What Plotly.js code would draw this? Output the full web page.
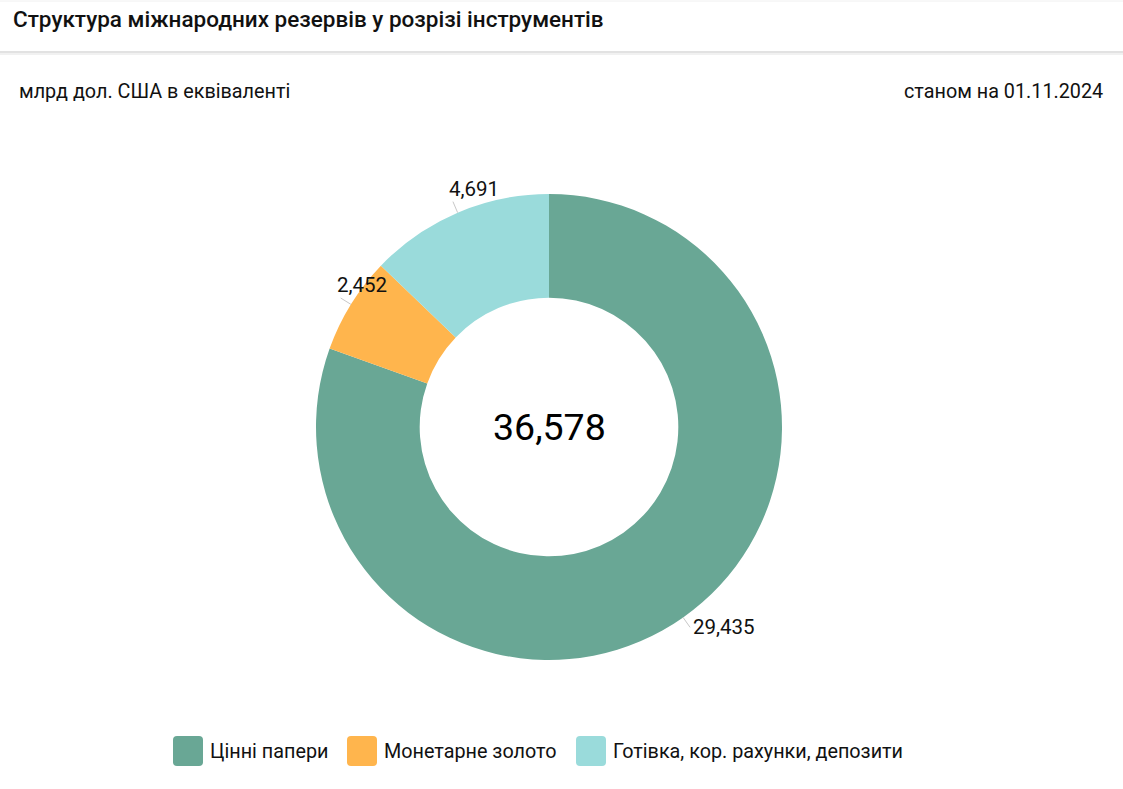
<!DOCTYPE html>
<html><head><meta charset="utf-8">
<script src="https://cdn.plot.ly/plotly-3.0.1.min.js"></script>
<style>html,body{margin:0;padding:0;background:#fff;}#c{width:1123px;height:789px;}</style>
</head><body><div id="c"></div>
<script>
var categories = ["Цінні папери", "Монетарне золото", "Готівка, кор. рахунки, депозити"];
var values = [29435, 2452, 4691];
var colors = ["#69A795", "#FFB54D", "#9ADBDB"];
var titleText = "Структура міжнародних резервів у розрізі інструментів";
var unitText = "млрд дол. США в еквіваленті";
var dateText = "станом на 01.11.2024";

var W = 1123, H = 789, M = {l: 0, r: 25, t: 194, b: 129};
var PW = W - M.l - M.r, PH = H - M.t - M.b;
function px(x) { return (x - M.l) / PW; }
function py(y) { return (H - M.b - y) / PH; }

var total = values.reduce(function (a, b) { return a + b; }, 0);
var font = "Roboto, 'Noto Sans', sans-serif";

var shapes = [
  {type: "line", xref: "paper", yref: "paper", x0: px(0), x1: px(W), y0: py(52), y1: py(52), line: {color: "#e2e2e2", width: 2}},
  {type: "line", xref: "paper", yref: "paper", x0: px(0), x1: px(W), y0: py(54), y1: py(54), line: {color: "#f1f1f1", width: 2}},
  {type: "line", xref: "paper", yref: "paper", x0: px(0), x1: px(W), y0: py(1), y1: py(1), line: {color: "#f0f0f0", width: 1}}
];
var annotations = [
  {xref: "paper", yref: "paper", x: px(17), y: py(91), xanchor: "left", yanchor: "middle", showarrow: false, text: unitText, font: {family: font, size: 19.8, color: "#111"}},
  {xref: "paper", yref: "paper", x: px(1105), y: py(91), xanchor: "right", yanchor: "middle", showarrow: false, text: dateText, font: {family: font, size: 19.8, color: "#111"}},
  {xref: "paper", yref: "paper", x: 0.5, y: 0.5, xanchor: "center", yanchor: "middle", showarrow: false, text: total.toLocaleString("en-US"), font: {family: font, size: 37.5, color: "#000"}}
];

// value labels with short radial leader lines, placed from the data angles
var cx = M.l + PW / 2, cy = M.t + PH / 2, R = Math.min(PW, PH) / 2, lead = 12;
var cum = 0;
values.forEach(function (v, i) {
  var mid = (cum + v / 2) / total * 2 * Math.PI;
  cum += v;
  var sx = Math.sin(mid), sy = -Math.cos(mid);
  var x0 = cx + R * sx, y0 = cy + R * sy, x1 = cx + (R + lead) * sx, y1 = cy + (R + lead) * sy;
  shapes.push({type: "line", xref: "paper", yref: "paper", x0: px(x0), y0: py(y0), x1: px(x1), y1: py(y1), line: {color: "#c8c8c8", width: 1}});
  var right = sx > 0;
  annotations.push({
    xref: "paper", yref: "paper",
    x: px(right ? x1 + 1 : x1 - 6), y: py(right ? y1 : y1 + 1),
    xanchor: "left", yanchor: right ? "middle" : "bottom",
    showarrow: false, text: v.toLocaleString("en-US"),
    font: {family: font, size: 20.5, color: "#111"}
  });
});

// custom legend
var legX = [173, 347, 576];
var sw = 30, legY = 751, rad = 4;
function roundRect(x, y, w, h, r) {
  function P(a, b) { return px(a) + "," + py(b); }
  return "M" + P(x + r, y) + " L" + P(x + w - r, y) + " Q" + P(x + w, y) + " " + P(x + w, y + r) +
    " L" + P(x + w, y + h - r) + " Q" + P(x + w, y + h) + " " + P(x + w - r, y + h) +
    " L" + P(x + r, y + h) + " Q" + P(x, y + h) + " " + P(x, y + h - r) +
    " L" + P(x, y + r) + " Q" + P(x, y) + " " + P(x + r, y) + " Z";
}
categories.forEach(function (c, i) {
  shapes.push({type: "path", xref: "paper", yref: "paper", path: roundRect(legX[i], legY - sw / 2, sw, sw, rad), fillcolor: colors[i], line: {width: 0}});
  annotations.push({xref: "paper", yref: "paper", x: px(legX[i] + sw + 5), y: py(legY), xanchor: "left", yanchor: "middle", showarrow: false, text: c, font: {family: font, size: 19.8, color: "#111"}});
});

var data = [{
  type: "pie",
  labels: categories,
  values: values,
  hole: 0.555,
  sort: false,
  direction: "clockwise",
  rotation: 0,
  marker: {colors: colors, line: {color: "#fff", width: 0}},
  textinfo: "none",
  showlegend: false,
  hoverinfo: "label+value"
}];

var layout = {
  width: W, height: H,
  margin: M,
  paper_bgcolor: "#fff",
  showlegend: false,
  title: {text: titleText, xref: "container", yref: "container", x: 13 / W, xanchor: "left", y: 1 - 19 / H, yanchor: "middle", font: {family: font, size: 22.5, weight: 500, color: "#111"}},
  shapes: shapes,
  annotations: annotations
};
Plotly.newPlot("c", data, layout, {displayModeBar: false, staticPlot: true});
</script></body></html>
